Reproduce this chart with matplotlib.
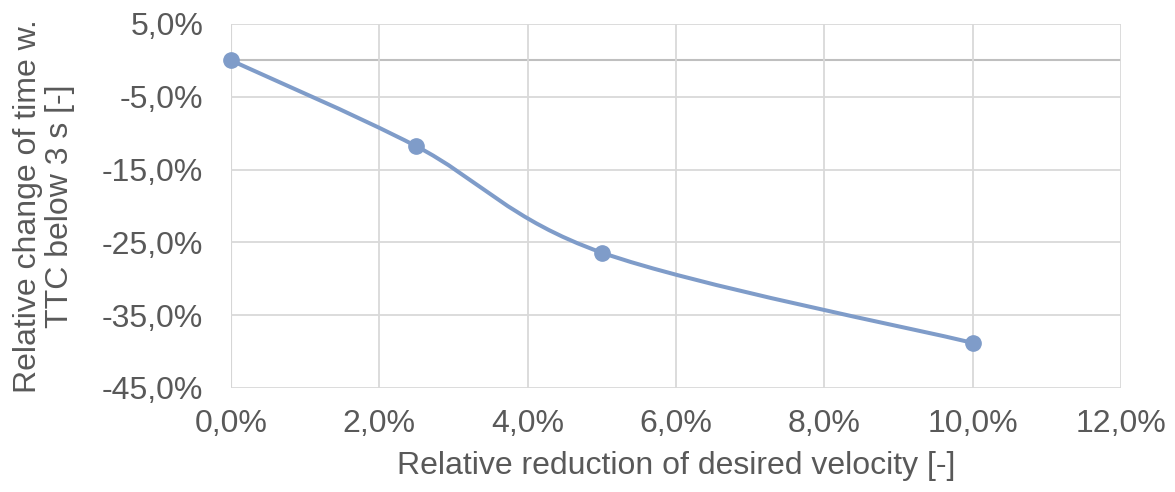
import matplotlib
matplotlib.use("Agg")
import matplotlib.pyplot as plt
from matplotlib.path import Path
from matplotlib.patches import PathPatch
from matplotlib.ticker import FuncFormatter, MultipleLocator
import numpy as np

plt.rcParams['font.family'] = ['Liberation Sans', 'DejaVu Sans']

x_vals = [0.0, 2.5, 5.0, 10.0]          # relative reduction of desired velocity [%]
y_vals = [0.0, -11.8, -26.4, -38.8]     # relative change of time w. TTC below 3 s [%]
x_label = "Relative reduction of desired velocity [-]"
y_label = "Relative change of time w.\nTTC below 3 s [-]"

line_color = "#7F9CC9"
text_color = "#595959"
grid_color = "#D9D9D9"
axis_color = "#BFBFBF"

fig = plt.figure(figsize=(11.75, 4.92), dpi=100)
ax = fig.add_axes([231/1175, 1-388/492, (1121-231)/1175, (388-24)/492])

ax.set_xlim(0, 12)
ax.set_ylim(-45, 5)
ax.xaxis.set_major_locator(MultipleLocator(2))
ax.set_yticks([5, -5, -15, -25, -35, -45])

fmt = FuncFormatter(lambda v, p: f"{v:.1f}".replace(".", ",") + "%")
ax.xaxis.set_major_formatter(fmt)
ax.yaxis.set_major_formatter(fmt)

ax.grid(True, color=grid_color, linewidth=1.3, zorder=0)
for s in ax.spines.values():
    s.set_visible(False)
ax.axvline(0, color=axis_color, linewidth=1.5, zorder=1)
ax.axhline(0, color=axis_color, linewidth=1.5, zorder=1)

ax.tick_params(length=0, labelsize=23, labelcolor=text_color)
ax.tick_params(axis='y', pad=20)
ax.tick_params(axis='x', pad=15)

# Excel-style smoothed line (Catmull-Rom Bezier) through the data points
px = np.array(x_vals); py = np.array(y_vals)
sx = (1121 - 231) / 12.0
sy = (388 - 24) / 50.0
X = px * sx; Y = py * sy
verts = [(px[0], py[0])]
codes = [Path.MOVETO]
n = len(px)
for i in range(n - 1):
    i0 = max(i - 1, 0); i3 = min(i + 2, n - 1)
    c1 = (X[i] + (X[i+1] - X[i0]) / 6, Y[i] + (Y[i+1] - Y[i0]) / 6)
    c2 = (X[i+1] - (X[i3] - X[i]) / 6, Y[i+1] - (Y[i3] - Y[i]) / 6)
    verts += [(c1[0]/sx, c1[1]/sy), (c2[0]/sx, c2[1]/sy), (px[i+1], py[i+1])]
    codes += [Path.CURVE4] * 3
ax.add_patch(PathPatch(Path(verts, codes), facecolor='none', edgecolor=line_color,
                       linewidth=2.9, zorder=3, capstyle='round'))
ax.plot(x_vals, y_vals, linestyle='none', marker='o', markersize=11,
        color=line_color, zorder=4, clip_on=False)

ax.set_xlabel(x_label, fontsize=23, color=text_color, labelpad=9)
ax.set_ylabel(y_label, fontsize=23, color=text_color, labelpad=19,
              multialignment='center', linespacing=1.12)

fig.savefig("out.png", dpi=100)
